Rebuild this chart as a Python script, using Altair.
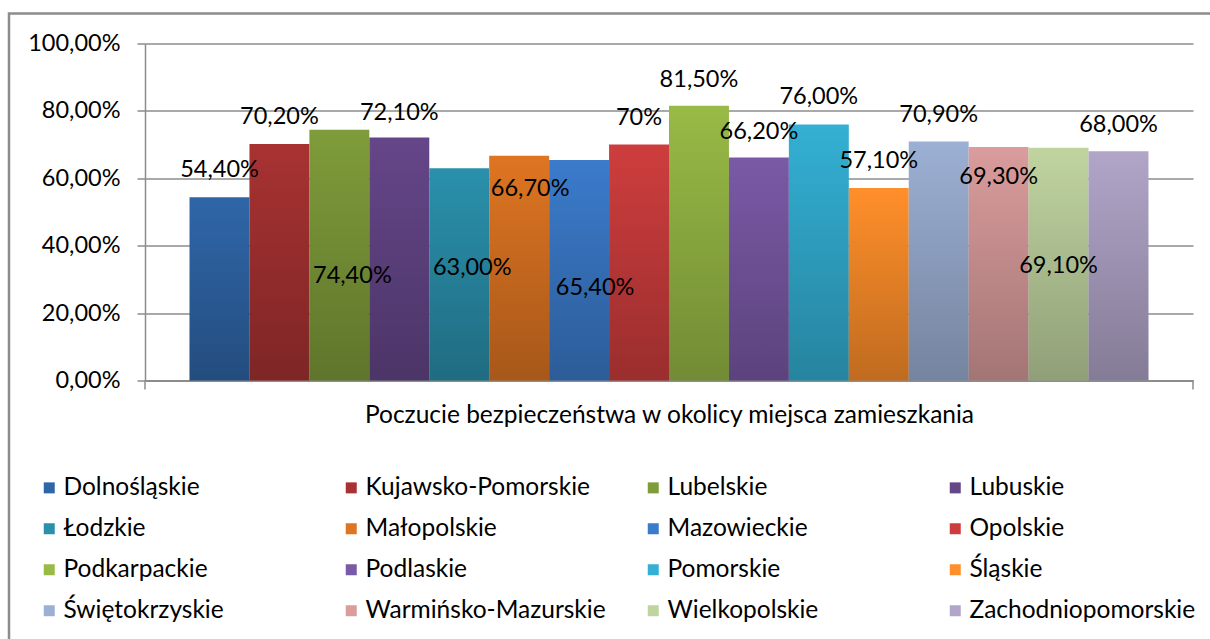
import altair as alt
import pandas as pd

regions = ["Dolnośląskie", "Kujawsko-Pomorskie", "Lubelskie", "Lubuskie",
           "Łodzkie", "Małopolskie", "Mazowieckie", "Opolskie",
           "Podkarpackie", "Podlaskie", "Pomorskie", "Śląskie",
           "Świętokrzyskie", "Warmińsko-Mazurskie", "Wielkopolskie", "Zachodniopomorskie"]
values = [54.4, 70.2, 74.4, 72.1, 63.0, 66.7, 65.4, 70.0,
          81.5, 66.2, 76.0, 57.1, 70.9, 69.3, 69.1, 68.0]
labels = ["54,40%", "70,20%", "74,40%", "72,10%", "63,00%", "66,70%", "65,40%", "70%",
          "81,50%", "66,20%", "76,00%", "57,10%", "70,90%", "69,30%", "69,10%", "68,00%"]
colors = ["#2F66A8", "#A83232", "#7F9C3A", "#654689", "#2A90AC", "#DE7522", "#3B7BCB", "#CE3D3D",
          "#98BA46", "#7A59A6", "#33B0D4", "#FF8F2A", "#9CB0D4", "#DA9C9C", "#C0D4A0", "#B1A5C8"]
# label placement offsets (pixels) relative to bar top / bar center
label_dx = [0, 0, 13, 0, 13, 11, 16, 0, 0, 0, 0, 0, 0, 0, 0, 0]
label_dy = [-27, -27, 146, -25, 100, 33, 128, -27, -26, -25, -27, -27, -27, 30, 118, -26]
category_title = "Poczucie bezpieczeństwa w okolicy miejsca zamieszkania"

df = pd.DataFrame({"region": regions, "value": values, "label": labels,
                   "dx": label_dx, "dy": label_dy, "idx": list(range(len(regions)))})

FONT = "Lato"
W, H = 1048, 337
PAD_OUT = 0.743
N = len(regions)
STEP = W / (N + 2 * PAD_OUT)

xscale = alt.Scale(domain=regions, paddingInner=0, paddingOuter=PAD_OUT)
yscale = alt.Scale(domain=[0, 100])

base = alt.Chart(df)

bars = base.mark_bar().encode(
    x=alt.X("region:N", sort=regions, scale=xscale,
            axis=alt.Axis(labels=False, ticks=False, domain=True, domainColor="#8C8C8C",
                          domainWidth=2, title=category_title, titleFont=FONT,
                          titleFontSize=24.5, titleFontWeight="normal", titleColor="#000",
                          titlePadding=23)),
    y=alt.Y("value:Q", scale=yscale,
            axis=alt.Axis(values=[0, 20, 40, 60, 80, 100],
                          labelExpr="replace(format(datum.value, '.2f'), '.', ',') + '%'",
                          labelFont=FONT, labelFontSize=23.5, labelColor="#000",
                          labelPadding=17, tickSize=8, tickColor="#8C8C8C", tickWidth=1.5,
                          domainColor="#8C8C8C", domainWidth=1.5,
                          gridColor="#8C8C8C", gridWidth=1.5, title=None)),
    color=alt.Color("region:N", sort=regions,
                    scale=alt.Scale(domain=regions, range=colors),
                    legend=alt.Legend(orient="none", legendX=-108, legendY=432,
                                      direction="horizontal",
                                      columns=4, gridAlign="all", title=None,
                                      symbolType="square", symbolSize=121,
                                      symbolStrokeWidth=0, symbolOpacity=1,
                                      labelFont=FONT, labelFontSize=24.5, labelColor="#000",
                                      labelOffset=2, columnPadding=35, rowPadding=16,
                                      padding=0, labelLimit=400)),
)

shade = base.mark_bar(
    color=alt.Gradient(gradient="linear",
                       stops=[alt.GradientStop(color="rgba(0,0,0,0)", offset=0),
                              alt.GradientStop(color="rgba(0,0,0,0.25)", offset=1)],
                       x1=0, x2=0, y1=0, y2=1)
).encode(
    x=alt.X("region:N", sort=regions, scale=xscale, axis=None),
    y=alt.Y("value:Q", scale=yscale),
)

text = base.transform_calculate(
    ly=f"datum.value - datum.dy * 100 / {H}",
    lx=f"datum.idx + 0.5 + datum.dx / {STEP}",
).mark_text(font=FONT, fontSize=23.5, color="#000", baseline="middle", align="center").encode(
    x=alt.X("lx:Q", scale=alt.Scale(domain=[-PAD_OUT, N + PAD_OUT], nice=False, zero=False), axis=None),
    y=alt.Y("ly:Q", scale=yscale),
    text="label:N",
)

one = alt.Chart(pd.DataFrame({"k": [0]}))
frame = one.mark_rect(fill=None, stroke="#8C8C8C", strokeWidth=2.5).encode(
    x=alt.value(-136), x2=alt.value(1300), y=alt.value(-30), y2=alt.value(800))
tick_l = one.mark_rule(color="#8C8C8C", strokeWidth=1.5).encode(
    x=alt.value(0), y=alt.value(H), y2=alt.value(H + 9))
tick_r = one.mark_rule(color="#8C8C8C", strokeWidth=1.5).encode(
    x=alt.value(W), y=alt.value(H), y2=alt.value(H + 9))

chart = alt.layer(frame, bars, shade, text, tick_l, tick_r).resolve_scale(
    color="independent", x="independent"
).properties(
    width=W, height=H,
    autosize=alt.AutoSizeParams(type="none"),
    padding={"left": 145, "top": 43.5, "right": 17, "bottom": 258.5},
    background="white",
).configure_view(stroke=None)

chart.save("out.html", embed_options={"renderer": "svg", "actions": False})
